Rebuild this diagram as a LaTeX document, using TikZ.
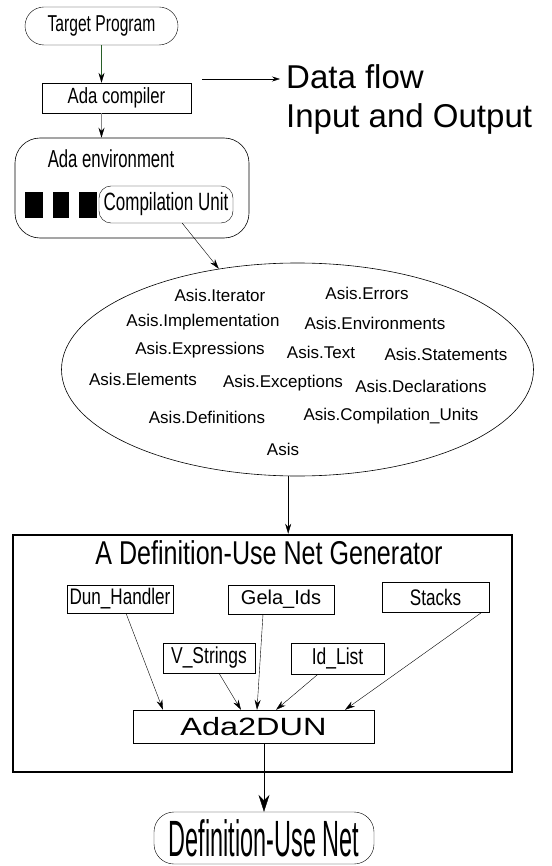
\documentclass[tikz,border=0pt]{standalone}
\usepackage{fontspec}
\setmainfont{Liberation Sans}
\newfontfamily\narrowfont[FakeStretch=0.68]{Liberation Sans}
\newfontfamily\midfont[FakeStretch=0.76]{Liberation Sans}
\newfontfamily\slimfont[FakeStretch=0.46]{Liberation Sans}
\newfontfamily\widefont[FakeStretch=1.3]{Liberation Sans}
\usepackage{xcolor}
\definecolor{flowgreen}{RGB}{40,95,40}
\definecolor{flowgray}{RGB}{135,135,135}
\usetikzlibrary{arrows.meta, positioning, shapes.geometric, calc}

\begin{document}
\begin{tikzpicture}[x=1pt, y=-1pt,
  modbox/.style={draw, thin, inner sep=0pt, minimum height=29pt},
  pkg/.style={font=\fontsize{17}{17}\selectfont, inner sep=0pt},
  link/.style={-{Stealth[length=10pt, width=6pt]}, thin},
]

\useasboundingbox (0,0) rectangle (551,866);

% === Ada side ===
\node[draw, rounded corners=19pt, minimum width=153pt, minimum height=38pt, inner sep=0pt,
      font=\narrowfont\fontsize{23}{23}\selectfont] (tp) at (101.5,26) {Target Program};
\node[draw, thin, minimum width=149pt, minimum height=30pt, inner sep=0pt,
      font=\midfont\fontsize{22}{22}\selectfont] (comp) at (116.5,98) {Ada compiler};

\node[draw, semithick, rounded corners=25pt, minimum width=234pt, minimum height=100pt,
      inner sep=0pt] (env) at (132,188) {};
\node[font=\narrowfont\fontsize{24.6}{24.6}\selectfont, inner sep=0pt] (envname) at (111,159) {Ada environment};
\foreach \x/\w in {25/18, 53/16, 79/18}
  \fill (\x,192) rectangle ++(\w,26);
\node[draw, rounded corners=12pt, minimum width=134pt, minimum height=37pt, inner sep=0pt,
      font=\narrowfont\fontsize{25}{25}\selectfont] (cu) at (166,204.5) {Compilation Unit};

\draw[flowgreen, -{Stealth[length=10pt, width=6pt, black]}] (tp.south) -- (tp.south |- comp.north);
\draw[flowgray, -{Stealth[length=10pt, width=6pt, black]}] (tp.south |- comp.south) -- (tp.south |- env.north);

% legend
\coordinate (dfstart) at (202,79);
\node[anchor=base west, font=\fontsize{33}{33}\selectfont, inner sep=0pt] (dflow) at (286,89) {Data flow};
\node[anchor=base west, font=\fontsize{33}{33}\selectfont, inner sep=0pt] (inout) at (286,128) {Input and Output};
\draw[-{Stealth[length=8pt, width=5pt]}, thin, shorten >=6pt] (dfstart) -- (dfstart -| dflow.west);

% === ASIS packages ===
\node[draw, ellipse, semithick, minimum width=472pt, minimum height=213pt, inner sep=0pt] (asis) at (297.5,369.5) {};

\node[pkg] (iter) at (220,295) {Asis.Iterator};
\node[pkg] (errs) at (367,293) {Asis.Errors};
\node[pkg] (impl) at (203,322) {Asis.Implementation};
\node[pkg] (envs) at (375,323) {Asis.Environments};
\node[pkg] (expr) at (200,350) {Asis.Expressions};
\node[pkg] (text) at (321,352) {Asis.Text};
\node[pkg] (stmt) at (446,354) {Asis.Statements};
\node[pkg] (elem) at (143,379) {Asis.Elements};
\node[pkg] (excp) at (283,383) {Asis.Exceptions};
\node[pkg] (decl) at (421,386) {Asis.Declarations};
\node[pkg] (defs) at (207,417) {Asis.Definitions};
\node[pkg] (cunits) at (391,416) {Asis.Compilation\_Units};
\node[pkg] (root) at (283,449) {Asis};

\draw[link] (cu.-49) -- (asis.128);

% === Generator ===
\node[draw, line width=2.5pt, minimum width=499pt, minimum height=237pt, inner sep=0pt] (gen) at (262.5,653.5) {};
\node[font=\midfont\fontsize{33}{33}\selectfont, inner sep=0pt] (gentitle) at (269,553) {A Definition-Use Net Generator};

\draw[link] (asis.-95) -- (asis.-95 |- gen.north);

\node[modbox, minimum width=106pt, minimum height=28pt, font=\midfont\fontsize{22.5}{22.5}\selectfont] (dun) at (120,599) {Dun\_Handler};
\node[modbox, minimum width=106pt, font=\fontsize{20}{20}\selectfont] (gela) at (281,599.5) {Gela\_Ids};
\node[modbox, minimum width=107pt, minimum height=30pt, font=\midfont\fontsize{22.5}{22.5}\selectfont] (stacks) at (435.5,597) {Stacks};
\node[modbox, minimum width=92pt, minimum height=30pt, font=\midfont\fontsize{23}{23}\selectfont] (vstr) at (209,658) {V\_Strings};
\node[modbox, minimum width=93pt, minimum height=31pt, font=\midfont\fontsize{23}{23}\selectfont] (idl) at (337.5,658.5) {Id\_List};
\node[modbox, minimum width=241pt, minimum height=33pt, font=\widefont\fontsize{25}{25}\selectfont] (a2d) at (253.5,726.5) {Ada2DUN};

\draw[link] ([xshift=6pt]dun.south) -- ([xshift=-90.5pt]a2d.north);
\draw[link] ([xshift=10pt]vstr.south) -- ([xshift=-12.5pt]a2d.north);
\draw[link] ([xshift=-18pt]gela.south) -- ([xshift=3.5pt]a2d.north);
\draw[link] ([xshift=-19.5pt]idl.south) -- ([xshift=22.5pt]a2d.north);
\draw[link] ([xshift=46.5pt]stacks.south) -- ([xshift=91.5pt]a2d.north);

% === Output ===
\node[draw, rounded corners=20pt, minimum width=220pt, minimum height=52pt, inner sep=0pt,
      font=\slimfont\fontsize{51}{51}\selectfont] (dnet) at (264,838) {Definition-Use Net};

\draw[-{Stealth[length=17pt, width=11pt]}, thin] (a2d.south -| dnet.north) -- (dnet.north);

\end{tikzpicture}
\end{document}
